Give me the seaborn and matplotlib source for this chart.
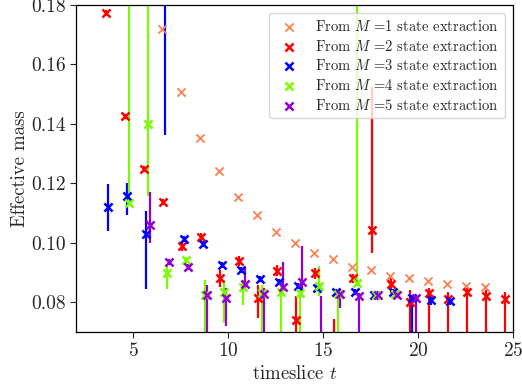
import numpy as np
import pandas as pd
import matplotlib
matplotlib.use("Agg")
import matplotlib.pyplot as plt
import seaborn as sns

# ---- data ----
labels = [r"From $M$ =1 state extraction", r"From $M$ =2 state extraction",
          r"From $M$ =3 state extraction", r"From $M$ =4 state extraction",
          r"From $M$ =5 state extraction"]
colors = ["coral", "red", "blue", "lawngreen", "darkviolet"]

t1 = list(range(6, 24))
m1 = [0.1718, 0.1508, 0.1353, 0.1242, 0.1155, 0.1094, 0.1037, 0.1001, 0.0966,
      0.0945, 0.0920, 0.0907, 0.0890, 0.0881, 0.0870, 0.0861, 0.0855, 0.0850]

t2 = list(range(3, 25))
m2 = [0.1772, 0.1425, 0.1249, 0.1137, 0.0988, 0.1018, 0.0881, 0.0940, 0.0814,
      0.0904, 0.0741, 0.0897, 0.0620, 0.0881, 0.1044, 0.0862, 0.0800, 0.0831,
      0.0810, 0.0833, 0.0820, 0.0812]
m2_lo = [0.001, 0.001, 0.001, 0.001, 0.0017, 0.0015, 0.0028, 0.0017, 0.0067,
         0.0017, 0.0100, 0.0018, 0.0100, 0.0015, 0.0079, 0.0030, 0.0150, 0.0200,
         0.0200, 0.0200, 0.0200, 0.0200]
m2_hi = [0.001, 0.001, 0.001, 0.001, 0.0017, 0.0015, 0.0028, 0.0017, 0.0045,
         0.0022, 0.0081, 0.0018, 0.0124, 0.0015, 0.0480, 0.0030, 0.0040, 0.0017,
         0.0026, 0.0015, 0.0022, 0.0024]

t3 = list(range(3, 22))
m3 = [0.1122, 0.1156, 0.1029, 0.1850, 0.1012, 0.0996, 0.0926, 0.0907, 0.0878,
      0.0867, 0.0856, 0.0849, 0.0833, 0.0833, 0.0823, 0.0836, 0.0814, 0.0806,
      0.0804]
m3_lo = [0.0082, 0.0064, 0.0185, 0.0487, 0.001, 0.001, 0.001, 0.001, 0.001,
         0.001, 0.001, 0.001, 0.001, 0.001, 0.001, 0.001, 0.0200, 0.0014, 0.0014]
m3_hi = [0.0075, 0.0045, 0.0079, 0.0500, 0.001, 0.001, 0.001, 0.001, 0.001,
         0.001, 0.001, 0.001, 0.001, 0.001, 0.001, 0.001, 0.0011, 0.0014, 0.0014]

t4 = list(range(4, 19))
m4 = [0.1134, 0.1400, 0.0898, 0.0941, 0.0825, 0.0836, 0.0853, 0.0831, 0.0836,
      0.0831, 0.0856, 0.0829, 0.0865, 0.0823, 0.0829]
m4_lo = [0.0010, 0.0244, 0.0054, 0.0010, 0.0200, 0.0106, 0.0061, 0.0200, 0.0200,
         0.0200, 0.0036, 0.0200, 0.0010, 0.0010, 0.0010]
m4_hi = [0.0800, 0.0600, 0.0028, 0.0010, 0.0051, 0.0040, 0.0023, 0.0028, 0.0020,
         0.0011, 0.0067, 0.0007, 0.1000, 0.0010, 0.0010]

t5 = list(range(5, 20))
m5 = [0.1061, 0.0935, 0.0918, 0.0825, 0.0814, 0.0862, 0.0827, 0.0853, 0.0867,
      0.0680, 0.0829, 0.0820, 0.0825, 0.0825, 0.0814]
m5_lo = [0.0060, 0.0010, 0.0010, 0.0200, 0.0095, 0.0020, 0.0200, 0.0011, 0.0025,
         0.0100, 0.0049, 0.0200, 0.0010, 0.0010, 0.0200]
m5_hi = [0.0110, 0.0010, 0.0010, 0.0034, 0.0034, 0.0058, 0.0021, 0.0084, 0.0121,
         0.0140, 0.0013, 0.0011, 0.0010, 0.0010, 0.0011]

offsets = [0.5, 0.6, 0.7, 0.8, 0.9]

# ---- style ----
sns.set_style("ticks")
plt.rcParams["font.family"] = ["cmr10", "DejaVu Serif"]
plt.rcParams["mathtext.fontset"] = "cm"
plt.rcParams["axes.unicode_minus"] = False
plt.rcParams["axes.formatter.use_mathtext"] = True

fig = plt.figure(figsize=(5.22, 3.87), dpi=100)
ax = fig.add_axes([76 / 522, 1 - 332 / 387, (513 - 76) / 522, (332 - 5) / 387])

series = [(t1, m1, None, None), (t2, m2, m2_lo, m2_hi), (t3, m3, m3_lo, m3_hi),
          (t4, m4, m4_lo, m4_hi), (t5, m5, m5_lo, m5_hi)]

frames = []
for i, (t, m, lo, hi) in enumerate(series):
    x = np.array(t, dtype=float) + offsets[i]
    frames.append(pd.DataFrame({"t": x, "m": m, "series": labels[i]}))
df = pd.concat(frames, ignore_index=True)

for i, (t, m, lo, hi) in enumerate(series):
    x = np.array(t, dtype=float) + offsets[i]
    if lo is not None:
        ax.errorbar(x, m, yerr=[lo, hi], fmt="none", ecolor=colors[i],
                    elinewidth=1.6, capsize=0, zorder=2)
    sub = df[df["series"] == labels[i]]
    sns.scatterplot(data=sub, x="t", y="m", ax=ax, marker="x", color=colors[i],
                    s=34, linewidth=1.3 if i == 0 else 1.8, label=labels[i],
                    zorder=3)

ax.set_xlim(2, 25)
ax.set_ylim(0.07, 0.18)
ax.set_xticks([5, 10, 15, 20, 25])
ax.set_yticks([0.08, 0.10, 0.12, 0.14, 0.16, 0.18])
ax.yaxis.set_major_formatter(matplotlib.ticker.FormatStrFormatter("%.2f"))
ax.tick_params(labelsize=14, length=4, width=0.8)
ax.set_xlabel(r"timeslice $t$", fontsize=13.5, labelpad=3)
ax.set_ylabel("Effective mass", fontsize=13.5, labelpad=1)
for sp in ax.spines.values():
    sp.set_visible(True)
    sp.set_linewidth(0.9)
    sp.set_color("black")

leg = ax.legend(loc="upper right", fontsize=10.5, frameon=True, framealpha=0.8,
                handletextpad=0.8, borderaxespad=0.55, labelspacing=0.32)

fig.savefig("out.png", dpi=100)
